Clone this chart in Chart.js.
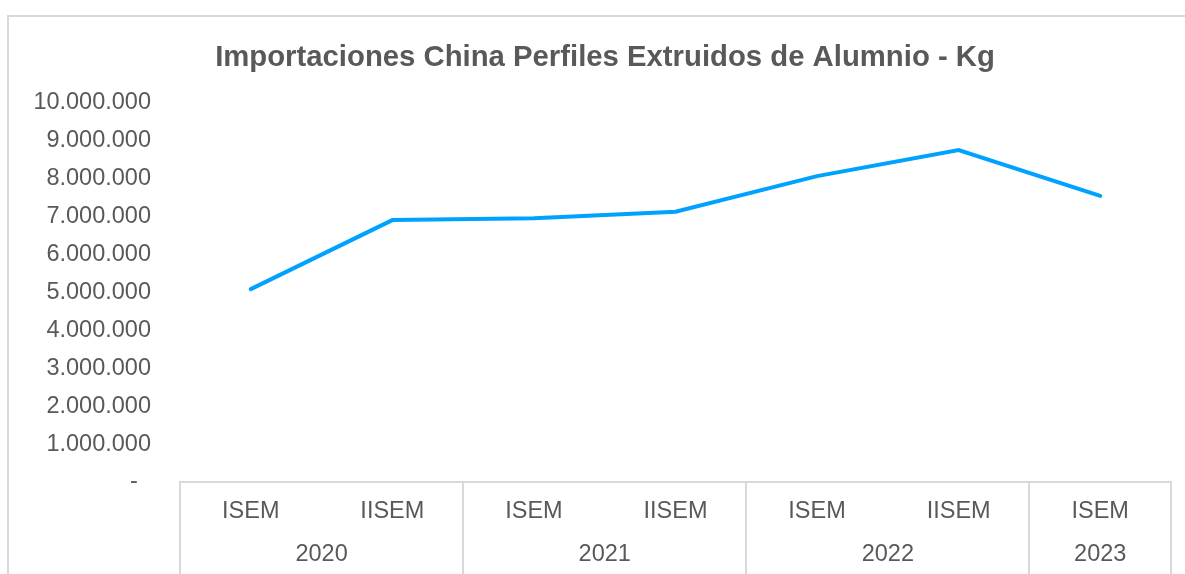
<!DOCTYPE html>
<html lang="es">
<head>
<meta charset="UTF-8">
<title>Importaciones China Perfiles Extruidos de Alumnio - Kg</title>
<script src="https://cdn.jsdelivr.net/npm/chart.js"></script>
<style>
    html, body { margin: 0; padding: 0; background: #fff; overflow: hidden; }
    .marco {
        position: absolute; left: 7px; top: 15px;
        width: 1260px; height: 650px;
        border: 2px solid #d9d9d9;
    }
    #grafico { position: absolute; left: 0; top: 0; }
</style>
</head>
<body>
<div class="marco"></div>
<canvas id="grafico" width="1185" height="574"></canvas>

<script>
    // datos
    var semestres = ['ISEM', 'IISEM', 'ISEM', 'IISEM', 'ISEM', 'IISEM', 'ISEM'];
    var anios = ['2020', '2021', '2022', '2023'];
    var semestresPorAnio = [2, 2, 2, 1];
    var kilos = [5090000, 6910000, 6960000, 7130000, 8070000, 8760000, 7550000];
    var titulo = 'Importaciones China Perfiles Extruidos de Alumnio - Kg';

    var gris = '#595959';
    var linea = '#d9d9d9';
    var fuente = '"Liberation Sans", Arial, sans-serif';

    function formatoMiles(v) {
        if (v === 0) return '-  ';
        return v.toString().replace(/\B(?=(\d{3})+(?!\d))/g, '.');
    }

    // titulo, separadores de anio y etiquetas de anio
    const extras = {
        id: 'extras',
        afterDraw(chart) {
            const ctx = chart.ctx;
            const x = chart.scales.x;
            ctx.save();
            ctx.fillStyle = gris;
            ctx.textAlign = 'center';
            ctx.textBaseline = 'middle';
            ctx.font = 'bold 29.3px ' + fuente;
            ctx.fillText(titulo, 605, 58);

            ctx.strokeStyle = linea;
            ctx.lineWidth = 2;
            ctx.font = '23.5px ' + fuente;
            var idx = 0;
            var mitad = (x.getPixelForValue(1) - x.getPixelForValue(0)) / 2;
            var bordes = [x.left];
            for (var i = 0; i < anios.length; i++) {
                var ini = x.getPixelForValue(idx) - mitad;
                var fin = x.getPixelForValue(idx + semestresPorAnio[i] - 1) + mitad;
                bordes.push(fin);
                ctx.fillText(anios[i], (ini + fin) / 2, x.top + 73);
                idx += semestresPorAnio[i];
            }
            bordes.forEach(function (b) {
                ctx.beginPath();
                ctx.moveTo(Math.round(b), x.top);
                ctx.lineTo(Math.round(b), chart.height);
                ctx.stroke();
            });
            ctx.restore();
        }
    };

    new Chart(document.getElementById('grafico'), {
        type: 'line',
        data: {
            labels: semestres,
            datasets: [{
                label: 'Kg',
                data: kilos,
                borderColor: '#00a2ff',
                borderWidth: 4,
                borderCapStyle: 'round',
                pointRadius: 0,
                tension: 0
            }]
        },
        options: {
            responsive: false,
            devicePixelRatio: 1,
            animation: false,
            layout: { padding: { top: 103, right: 14, left: 0, bottom: 0 } },
            plugins: {
                legend: { display: false },
                tooltip: { enabled: false }
            },
            scales: {
                y: {
                    min: 0,
                    max: 10000000,
                    afterFit: function (s) { s.width = 180; },
                    border: { display: false },
                    grid: { display: false, drawTicks: false },
                    ticks: {
                        stepSize: 1000000,
                        padding: 29,
                        color: gris,
                        font: { family: fuente, size: 23.5 },
                        callback: function (v) { return formatoMiles(v); }
                    }
                },
                x: {
                    offset: true,
                    afterFit: function (s) { s.height = 92; },
                    border: { display: true, color: linea, width: 2 },
                    grid: { drawOnChartArea: false, drawTicks: false },
                    ticks: {
                        padding: 15,
                        color: gris,
                        maxRotation: 0,
                        autoSkip: false,
                        font: { family: fuente, size: 23.5 }
                    }
                }
            }
        },
        plugins: [extras]
    });
</script>
</body>
</html>
